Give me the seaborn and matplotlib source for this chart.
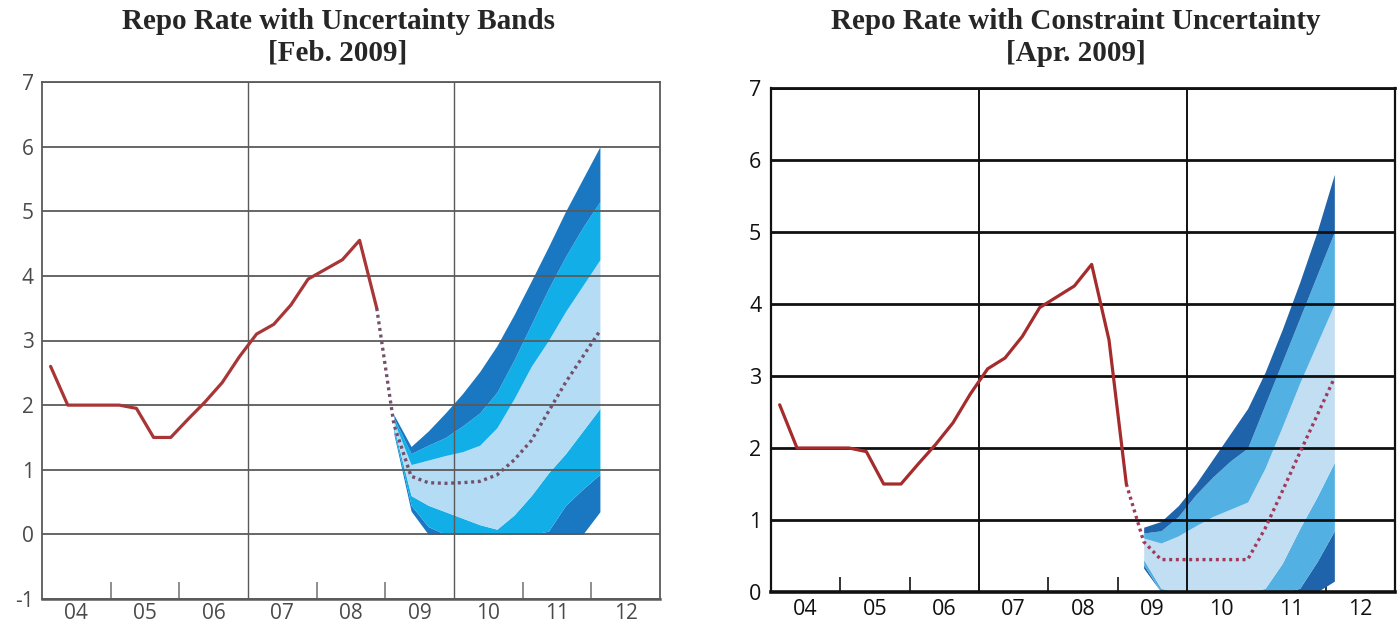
import numpy as np
import pandas as pd
import matplotlib
matplotlib.use("Agg")
import matplotlib.pyplot as plt
import seaborn as sns

# ---------------- data ----------------
year_labels = ["04", "05", "06", "07", "08", "09", "10", "11", "12"]
y_ticks_left = [-1, 0, 1, 2, 3, 4, 5, 6, 7]
y_ticks_right = [0, 1, 2, 3, 4, 5, 6, 7]

# Repo rate outcome (quarterly averages), 2004Q1 - 2009Q1
hist_rate = [2.6, 2.0, 2.0, 2.0,
             2.0, 1.95, 1.5, 1.5,
             1.78, 2.05, 2.35, 2.75,
             3.1, 3.25, 3.55, 3.95,
             4.1, 4.25, 4.55, 3.5,
             1.5]

# Feb 2009 forecast: 2008Q4 - 2012Q1
feb_fc = [3.5, 1.7, 0.9, 0.8, 0.79, 0.8, 0.82, 0.92, 1.15, 1.45, 1.9, 2.35, 2.75, 3.15]
# Feb 2009 uncertainty bands: 2009Q1 - 2012Q1
feb_u90 = [1.85, 1.36, 1.6, 1.88, 2.18, 2.52, 2.92, 3.4, 3.92, 4.45, 5.0, 5.5, 6.0]
feb_u75 = [1.8, 1.25, 1.38, 1.5, 1.68, 1.88, 2.2, 2.7, 3.25, 3.8, 4.3, 4.75, 5.15]
feb_u50 = [1.75, 1.08, 1.15, 1.22, 1.28, 1.38, 1.65, 2.1, 2.6, 3.0, 3.45, 3.85, 4.25]
feb_l50 = [1.65, 0.6, 0.45, 0.35, 0.25, 0.15, 0.08, 0.3, 0.6, 0.95, 1.25, 1.6, 1.95]
feb_l75 = [1.6, 0.45, 0.12, 0.0, 0.0, 0.0, 0.0, 0.0, 0.0, 0.05, 0.45, 0.7, 0.93]
feb_l90 = [1.55, 0.36, 0.0, 0.0, 0.0, 0.0, 0.0, 0.0, 0.0, 0.0, 0.0, 0.0, 0.35]

# Apr 2009 forecast: 2009Q1 - 2012Q1
apr_fc = [1.5, 0.7, 0.45, 0.45, 0.45, 0.45, 0.45, 0.45, 0.88, 1.4, 1.93, 2.45, 2.97]
# Apr 2009 constrained bands: 2009Q2 - 2012Q1
apr_u90 = [0.9, 0.98, 1.2, 1.5, 1.85, 2.2, 2.55, 3.05, 3.65, 4.3, 5.0, 5.8]
apr_u75 = [0.82, 0.85, 1.05, 1.35, 1.6, 1.82, 2.0, 2.6, 3.2, 3.8, 4.4, 5.0]
apr_u50 = [0.75, 0.68, 0.78, 0.92, 1.05, 1.15, 1.25, 1.72, 2.3, 2.9, 3.45, 4.0]
apr_l50 = [0.45, 0.05, 0.0, 0.0, 0.0, 0.0, 0.0, 0.05, 0.4, 0.88, 1.32, 1.8]
apr_l75 = [0.38, 0.0, 0.0, 0.0, 0.0, 0.0, 0.0, 0.0, 0.0, 0.05, 0.42, 0.85]
apr_l90 = [0.33, 0.0, 0.0, 0.0, 0.0, 0.0, 0.0, 0.0, 0.0, 0.0, 0.0, 0.15]


def qpos(start, end):
    per = pd.period_range(start, end, freq="Q")
    return np.array([p.year + (p.quarter - 1) / 4 + 0.125 for p in per])


x_hist_feb = qpos("2004Q1", "2008Q4")
x_hist_apr = qpos("2004Q1", "2009Q1")
x_fc_feb = qpos("2008Q4", "2012Q1")
x_band_feb = qpos("2009Q1", "2012Q1")
x_fc_apr = qpos("2009Q1", "2012Q1")
x_band_apr = qpos("2009Q2", "2012Q1")

# ---------------- style ----------------
sns.set_theme(style="white")
plt.rcParams["font.family"] = ["Open Sans", "DejaVu Sans"]

W, H = 1400, 632
fig = plt.figure(figsize=(W / 100, H / 100), dpi=100)


def px_axes(x0, x1, ytop, ybot):
    return fig.add_axes([x0 / W, 1 - ybot / H, (x1 - x0) / W, (ybot - ytop) / H])


axL = px_axes(42, 660, 82, 599)
axR = px_axes(771, 1395, 88, 592)

year_centers = [2004.5 + i for i in range(len(year_labels))]
minor_pos = [2005, 2006, 2008, 2009, 2011, 2012]


def draw(ax, x_hist, hist, x_fc, fc, x_band, bands, cols, grid_c, grid_lw, vlw,
         red, dot_c, yticks, ylim, lab_c, lab_size, tick_c, tick_len, ypad, xpad):
    u90, u75, u50, l50, l75, l90 = [np.array(b) for b in bands]
    dark, mid, light = cols
    ax.fill_between(x_band, l90, l75, color=dark, lw=0, zorder=1)
    ax.fill_between(x_band, l75, l50, color=mid, lw=0, zorder=1)
    ax.fill_between(x_band, l50, u50, color=light, lw=0, zorder=1)
    ax.fill_between(x_band, u50, u75, color=mid, lw=0, zorder=1)
    ax.fill_between(x_band, u75, u90, color=dark, lw=0, zorder=1)
    for yv in yticks:
        ax.axhline(yv, color=grid_c, lw=grid_lw, zorder=2)
    for xv in (2007, 2010):
        ax.axvline(xv, color=grid_c, lw=vlw, zorder=2)
    sns.lineplot(x=x_fc, y=fc, ax=ax, color=dot_c, lw=2.4,
                 linestyle=(0, (0.9, 1.1)), zorder=4)
    sns.lineplot(x=x_hist, y=hist, ax=ax, color=red, lw=2.3, zorder=5)
    ax.set_xlim(2004, 2013)
    ax.set_ylim(*ylim)
    ax.set_yticks(yticks)
    ax.set_yticklabels([str(v) for v in yticks], color=lab_c, fontsize=lab_size)
    ax.set_xticks(year_centers)
    ax.set_xticklabels(year_labels, color=lab_c, fontsize=lab_size)
    ax.set_xticks(minor_pos, minor=True)
    ax.tick_params(axis="y", length=0, pad=ypad)
    ax.tick_params(axis="x", which="major", length=0, pad=xpad)
    ax.tick_params(axis="x", which="minor", bottom=True, direction="in",
                   length=tick_len, width=1.2, color=tick_c)
    ax.set_xlabel("")
    ax.set_ylabel("")
    for s in ax.spines.values():
        s.set_color(grid_c)
        s.set_zorder(3)


draw(axL, x_hist_feb, hist_rate[:len(x_hist_feb)], x_fc_feb, feb_fc, x_band_feb,
     (feb_u90, feb_u75, feb_u50, feb_l50, feb_l75, feb_l90),
     ("#1a78c2", "#12aee8", "#b4dcf4"), "#5a5a5a", 1.3, 1.0,
     "#a83636", "#75506a", y_ticks_left, (-1, 7), "#4a4a4a", 15,
     "#7a7a7a", 12, 6, 3)
for s in axL.spines.values():
    s.set_linewidth(1.3)
axL.spines["bottom"].set_linewidth(1.8)

draw(axR, x_hist_apr, hist_rate, x_fc_apr, apr_fc, x_band_apr,
     (apr_u90, apr_u75, apr_u50, apr_l50, apr_l75, apr_l90),
     ("#1f64aa", "#52b0e3", "#c2def3"), "#111111", 2.0, 1.4,
     "#a52c2c", "#a2385a", y_ticks_right, (0, 7), "#111111", 15.5,
     "#111111", 11, 7, 5)
for s in axR.spines.values():
    s.set_linewidth(1.6)
axR.spines["bottom"].set_linewidth(2.6)
axR.spines["top"].set_linewidth(2.0)

title_kw = dict(ha="center", va="top", fontsize=21, fontweight="bold",
                family=["Liberation Serif", "DejaVu Serif"], linespacing=1.22)
fig.text(338 / W, 1 - 8 / H, "Repo Rate with Uncertainty Bands\n[Feb. 2009]", **title_kw)
fig.text(1076 / W, 1 - 8 / H, "Repo Rate with Constraint Uncertainty\n[Apr. 2009]", **title_kw)

fig.savefig("out.png", dpi=100)
